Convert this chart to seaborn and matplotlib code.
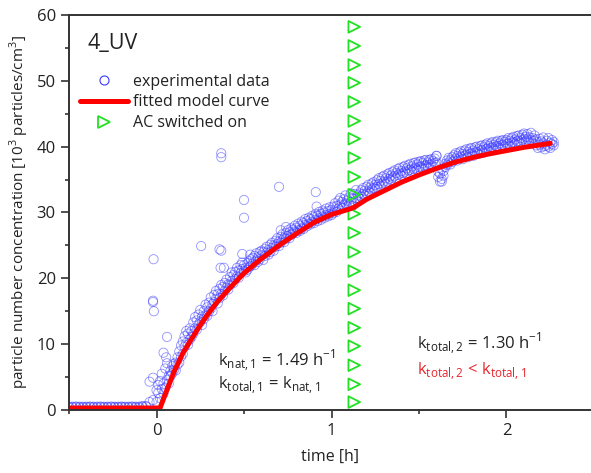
import numpy as np
import pandas as pd
import matplotlib
matplotlib.use("Agg")
import matplotlib.pyplot as plt
import seaborn as sns
from matplotlib.ticker import MultipleLocator
from matplotlib.lines import Line2D

# measured particle concentration, two readings per time step
time_exp = [
    -0.50, -0.48, -0.46, -0.44, -0.42, -0.40, -0.38, -0.36, -0.34, -0.32,
    -0.30, -0.28, -0.26, -0.24, -0.22, -0.20, -0.18, -0.16, -0.14, -0.12,
    -0.10, -0.08, -0.06, -0.04, -0.02,
    0.00, 0.01, 0.02, 0.03, 0.04, 0.05, 0.06, 0.07, 0.08, 0.09, 0.10,
    0.11, 0.12, 0.13, 0.14, 0.15, 0.16, 0.17, 0.18, 0.19, 0.20,
    0.21, 0.22, 0.23, 0.24, 0.25, 0.26, 0.27, 0.28, 0.29, 0.30,
    0.31, 0.32, 0.33, 0.34, 0.35, 0.36, 0.37, 0.38, 0.39, 0.40,
    0.41, 0.42, 0.43, 0.44, 0.45, 0.46, 0.47, 0.48, 0.49, 0.50,
    0.51, 0.52, 0.53, 0.54, 0.55, 0.56, 0.57, 0.58, 0.59, 0.60,
    0.61, 0.62, 0.63, 0.64, 0.65, 0.66, 0.67, 0.68, 0.69, 0.70,
    0.71, 0.72, 0.73, 0.74, 0.75, 0.76, 0.77, 0.78, 0.79, 0.80,
    0.81, 0.82, 0.83, 0.84, 0.85, 0.86, 0.87, 0.88, 0.89, 0.90,
    0.91, 0.92, 0.93, 0.94, 0.95, 0.96, 0.97, 0.98, 0.99, 1.00,
    1.01, 1.02, 1.03, 1.04, 1.05, 1.06, 1.07, 1.08, 1.09, 1.10,
    1.11, 1.12, 1.13, 1.14, 1.15, 1.16, 1.17, 1.18, 1.19, 1.20,
    1.21, 1.22, 1.23, 1.24, 1.25, 1.26, 1.27, 1.28, 1.29, 1.30,
    1.31, 1.32, 1.33, 1.34, 1.35, 1.36, 1.37, 1.38, 1.39, 1.40,
    1.41, 1.42, 1.43, 1.44, 1.45, 1.46, 1.47, 1.48, 1.49, 1.50,
    1.51, 1.52, 1.53, 1.54, 1.55, 1.56, 1.57, 1.58, 1.59, 1.60,
    1.61, 1.62, 1.63, 1.64, 1.65, 1.66, 1.67, 1.68, 1.69, 1.70,
    1.71, 1.72, 1.73, 1.74, 1.75, 1.76, 1.77, 1.78, 1.79, 1.80,
    1.81, 1.82, 1.83, 1.84, 1.85, 1.86, 1.87, 1.88, 1.89, 1.90,
    1.91, 1.92, 1.93, 1.94, 1.95, 1.96, 1.97, 1.98, 1.99, 2.00,
    2.01, 2.02, 2.03, 2.04, 2.05, 2.06, 2.07, 2.08, 2.09, 2.10,
    2.11, 2.12, 2.13, 2.14, 2.15, 2.16, 2.17, 2.18, 2.19, 2.20,
    2.21, 2.22, 2.23, 2.24, 2.25, 2.26, 2.27,
]
conc_a = [
    0.5, 0.4, 0.5, 0.5, 0.4, 0.5, 0.5, 0.4, 0.5, 0.5,
    0.4, 0.5, 0.5, 0.4, 0.5, 0.5, 0.4, 0.5, 0.5, 0.4,
    0.5, 0.5, 0.6, 1.2, 4.9,
    1.2, 2.6, 1.8, 3.2, 2.5, 3.4, 4.6, 5.2, 6.0, 6.7, 7.0,
    7.2, 8.0, 8.9, 9.8, 10.4, 9.6, 10.2, 11.6, 12.4, 12.0,
    13.3, 12.4, 13.6, 14.5, 13.4, 14.2, 15.0, 14.4, 15.6, 16.3,
    15.4, 16.1, 17.5, 16.9, 16.2, 18.4, 17.6, 18.7, 19.3, 18.6,
    19.1, 20.2, 19.6, 20.5, 21.0, 20.3, 21.2, 22.0, 21.4, 21.1,
    21.6, 22.3, 21.7, 22.9, 22.2, 23.4, 22.7, 23.2, 24.0, 23.5,
    22.8, 24.5, 23.9, 24.3, 25.1, 24.6, 25.0, 25.7, 25.2, 25.6,
    26.3, 25.8, 26.2, 26.9, 26.4, 27.0, 26.6, 27.4, 27.1, 27.7,
    27.3, 28.0, 27.6, 28.4, 28.1, 28.7, 28.3, 29.0, 28.6, 29.3,
    28.9, 29.5, 29.1, 29.8, 29.4, 30.0, 29.6, 30.2, 29.8, 30.4,
    30.9, 30.3, 31.0, 31.8, 31.2, 30.7, 32.0, 31.4, 30.9, 32.3,
    31.6, 32.1, 32.8, 32.2, 31.7, 32.9, 33.4, 32.8, 33.3, 33.9,
    33.2, 33.8, 34.4, 33.7, 34.2, 34.9, 34.3, 34.8, 35.4, 34.7,
    35.2, 35.8, 35.1, 35.6, 36.2, 35.5, 36.0, 36.6, 35.9, 36.3,
    36.9, 36.2, 36.7, 37.2, 36.5, 37.0, 37.5, 36.8, 37.3, 37.7,
    37.0, 37.5, 37.9, 37.2, 37.6, 38.0, 37.3, 37.8, 38.2, 37.6,
    35.4, 34.7, 35.1, 36.3, 36.9, 37.2, 37.6, 38.0, 38.4, 37.9,
    38.2, 38.6, 39.1, 38.5, 38.9, 39.4, 38.8, 39.2, 39.7, 39.0,
    39.4, 39.9, 39.2, 39.6, 40.1, 39.5, 39.9, 40.3, 39.7, 40.1,
    40.5, 39.9, 40.3, 40.7, 40.1, 40.5, 40.9, 40.3, 40.7, 41.0,
    40.5, 40.9, 41.3, 40.7, 41.1, 41.6, 40.9, 41.3, 41.8, 41.2,
    40.8, 41.9, 41.4, 42.1, 41.3, 40.9, 40.2, 40.7, 41.2, 39.9,
    40.5, 40.1, 40.9, 41.3, 40.6, 41.0, 40.2,
]
conc_b = [
    0.4, 0.5, 0.5, 0.4, 0.5, 0.4, 0.5, 0.5, 0.4, 0.5,
    0.5, 0.4, 0.5, 0.5, 0.4, 0.5, 0.5, 0.4, 0.5, 0.5,
    0.4, 0.6, 0.5, 4.3, 1.5,
    3.0, 3.8, 4.4, 5.5, 4.0, 6.3, 7.1, 4.0, 5.1, 5.6, 6.1,
    6.0, 6.9, 7.2, 8.1, 8.5, 11.2, 12.0, 9.9, 10.7, 11.1,
    11.6, 14.1, 12.2, 13.0, 15.2, 12.9, 13.8, 16.0, 14.3, 15.0,
    17.1, 15.0, 16.4, 18.1, 17.6, 17.0, 19.0, 17.4, 18.1, 19.8,
    18.3, 19.0, 20.9, 19.3, 19.9, 21.6, 20.1, 20.8, 22.4, 22.0,
    20.9, 21.3, 22.6, 21.9, 23.1, 22.0, 23.8, 22.5, 22.9, 24.2,
    24.0, 23.4, 24.8, 23.6, 24.0, 25.4, 24.2, 24.8, 26.1, 24.9,
    25.4, 26.7, 25.5, 26.0, 27.3, 26.1, 27.6, 26.8, 28.0, 26.9,
    28.3, 27.2, 28.6, 27.5, 29.0, 27.9, 29.2, 28.2, 29.5, 28.4,
    29.8, 28.7, 30.1, 28.9, 30.3, 29.2, 30.6, 29.4, 30.8, 29.6,
    29.9, 31.4, 30.1, 30.6, 32.2, 31.6, 31.1, 32.6, 31.8, 31.2,
    32.9, 31.0, 31.5, 33.4, 32.6, 32.1, 32.4, 33.7, 32.6, 32.9,
    34.2, 33.0, 33.5, 34.6, 33.6, 33.9, 35.2, 34.0, 34.4, 35.6,
    34.3, 34.7, 36.0, 34.9, 35.3, 36.4, 35.2, 35.7, 36.8, 35.6,
    36.0, 37.1, 35.9, 36.4, 37.4, 36.2, 36.6, 37.6, 36.5, 36.9,
    37.8, 36.7, 37.1, 38.0, 36.9, 37.3, 38.1, 37.0, 37.5, 38.6,
    36.2, 35.9, 36.6, 35.6, 37.4, 37.9, 38.3, 37.3, 37.7, 38.7,
    39.0, 37.9, 38.3, 39.3, 38.1, 38.6, 39.6, 38.4, 38.9, 39.8,
    38.6, 39.1, 40.0, 38.9, 39.3, 40.2, 39.1, 39.6, 40.5, 39.4,
    39.8, 40.7, 39.6, 40.0, 40.9, 39.8, 40.2, 41.0, 40.0, 40.4,
    41.3, 40.1, 40.6, 41.5, 40.4, 40.8, 41.7, 40.6, 41.0, 42.0,
    41.5, 41.1, 40.6, 41.0, 40.5, 41.7, 41.1, 39.8, 40.3, 40.8,
    41.4, 39.6, 40.3, 40.0, 39.8, 40.4, 40.7,
]

# scattered readings away from the main band
time_out = [-0.02, -0.02, -0.015, -0.017, 0.04, 0.055, 0.06, 0.255, 0.36, 0.37,
            0.366, 0.385, 0.37, 0.37, 0.49, 0.50, 0.50, 0.535, 0.70, 0.71,
            0.74, 0.91, 0.915, 1.60, 1.63]
conc_out = [16.6, 16.4, 15.0, 22.9, 8.7, 8.0, 11.1, 24.9, 24.4, 24.2,
            21.6, 21.6, 39.0, 38.4, 23.7, 31.9, 29.2, 23.6, 33.9, 27.3,
            27.8, 33.1, 30.9, 38.6, 34.7]

# fitted model curve
time_fit = [-0.5, 0.0, 0.02, 0.05, 0.1, 0.15, 0.2, 0.25, 0.3, 0.35, 0.4, 0.5,
            0.6, 0.7, 0.8, 0.9, 1.0, 1.1, 1.13, 1.2, 1.3, 1.4, 1.5, 1.6, 1.7,
            1.8, 1.9, 2.0, 2.1, 2.2, 2.25]
conc_fit = [0.3, 0.3, 0.3, 2.4, 5.8, 8.6, 10.8, 12.9, 14.8, 16.5, 18.0, 20.8,
            23.0, 25.0, 26.8, 28.5, 29.7, 30.5, 30.8, 32.0, 33.3, 34.6, 35.7,
            36.7, 37.6, 38.3, 38.9, 39.4, 39.9, 40.3, 40.5]

# AC switched on marker column
time_ac = 1.13
conc_ac = [1.2, 3.9, 6.8, 9.7, 12.5, 15.4, 18.2, 21.1, 24.0, 26.9, 29.8,
           32.7, 35.4, 38.3, 41.2, 43.9, 46.8, 49.7, 52.4, 55.3, 58.2]

df_exp = pd.DataFrame({
    "t": time_exp + time_exp + time_out,
    "c": conc_a + conc_b + conc_out,
})
df_fit = pd.DataFrame({"t": time_fit, "c": conc_fit})
df_ac = pd.DataFrame({"t": [time_ac] * len(conc_ac), "c": conc_ac})

sns.set_style("ticks")
plt.rcParams["font.family"] = ["Open Sans", "DejaVu Sans"]
plt.rcParams["mathtext.fontset"] = "custom"
plt.rcParams["mathtext.rm"] = "Open Sans"

txt = "#222222"
blue = "#3a3aff"
green = "#22e022"

fig = plt.figure(figsize=(5.91, 4.73), dpi=100)
ax = fig.add_axes([0.1168, 0.1332, 0.8832, 0.8351])

sns.scatterplot(data=df_exp, x="t", y="c", ax=ax, marker="o", s=44,
                facecolors="none", edgecolor=blue, linewidth=0.6, alpha=0.55)
sns.lineplot(data=df_fit, x="t", y="c", ax=ax, color="#ff0000", linewidth=3.6)
sns.scatterplot(data=df_ac, x="t", y="c", ax=ax, marker=">", s=70,
                facecolors="none", edgecolor=green, linewidth=1.3)

ax.set_xlim(-0.5, 2.483)
ax.set_ylim(0, 60)
ax.xaxis.set_major_locator(MultipleLocator(1))
ax.xaxis.set_minor_locator(MultipleLocator(0.5))
ax.yaxis.set_major_locator(MultipleLocator(10))
ax.yaxis.set_minor_locator(MultipleLocator(5))
ax.tick_params(which="major", length=6, width=1.2, colors="#333333",
               labelsize=12, labelcolor=txt, direction="out")
ax.tick_params(which="minor", length=3, width=1.2, colors="#333333", direction="out")

for side in ["left", "bottom", "top"]:
    ax.spines[side].set_linewidth(1.4)
    ax.spines[side].set_color("#333333")
ax.spines["right"].set_visible(False)

ax.set_xlabel("time [h]", fontsize=11.5, color=txt, labelpad=7)
ax.set_ylabel("particle number concentration [10$^3$ particles/cm$^3$]",
              fontsize=11, color=txt, labelpad=4)

ax.text(0.035, 0.928, "4_UV", transform=ax.transAxes, fontsize=15.5,
        color=txt, va="center", ha="left")

handles = [
    Line2D([], [], linestyle="none", marker="o", markersize=6.5,
           markerfacecolor="none", markeredgecolor=blue, markeredgewidth=0.8),
    Line2D([], [], color="#ff0000", linewidth=3.6),
    Line2D([], [], linestyle="none", marker=">", markersize=8.5,
           markerfacecolor="none", markeredgecolor=green, markeredgewidth=1.3),
]
labels = ["experimental data", "fitted model curve", "AC switched on"]
leg = ax.legend(handles, labels, loc="upper left", bbox_to_anchor=(0.0, 0.88),
                frameon=False, fontsize=11.5, handlelength=3.0,
                handletextpad=0.3, labelspacing=0.3, borderaxespad=0.3)
for t in leg.get_texts():
    t.set_color(txt)

ax.text(0.35, 7.4, r"k$_\mathregular{nat,1}$ = 1.49 h$^\mathregular{-1}$",
        fontsize=12, color=txt, va="center")
ax.text(0.35, 3.8, r"k$_\mathregular{total,1}$ = k$_\mathregular{nat,1}$",
        fontsize=12, color=txt, va="center")
ax.text(1.49, 10.0, r"k$_\mathregular{total,2}$ = 1.30 h$^\mathregular{-1}$",
        fontsize=12, color=txt, va="center")
ax.text(1.49, 5.9, r"k$_\mathregular{total,2}$ < k$_\mathregular{total,1}$",
        fontsize=12, color="#e8242c", va="center")

fig.savefig("out.png", dpi=100)
